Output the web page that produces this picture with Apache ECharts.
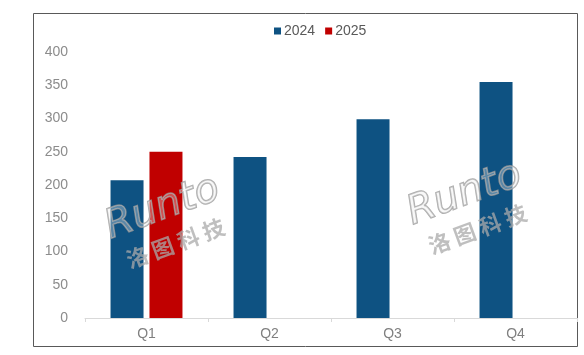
<!DOCTYPE html>
<html>
<head>
<meta charset="utf-8">
<script src="https://cdn.jsdelivr.net/npm/echarts@6/dist/echarts.min.js"></script>
<style>
  html, body { margin: 0; padding: 0; background: #ffffff; }
  #chart { width: 584px; height: 355px; }
</style>
</head>
<body>
<div id="chart"></div>
<script>
// data
var quarters = ['Q1', 'Q2', 'Q3', 'Q4'];
var values2024 = [207, 242, 299, 355];
var values2025 = [250, null, null, null];
var seriesNames = ['2024', '2025'];

var chart = echarts.init(document.getElementById('chart'));

// watermark "Runto 洛图科技" (two copies), drawn over the bars
function watermark(x, y) {
    return {
        type: 'group',
        x: x,
        y: y,
        rotation: 0.35,
        silent: true,
        z: 100,
        children: [
            {
                type: 'text',
                z: 100,
                style: {
                    text: 'Runto',
                    x: 0, y: 0,
                    font: 'italic 40px "DejaVu Sans"',
                    fill: 'rgba(235,235,235,0.35)',
                    stroke: 'rgba(150,150,150,0.8)',
                    lineWidth: 1.5
                }
            },
            {
                type: 'text',
                z: 100,
                style: {
                    text: '洛 图 科 技',
                    x: 8, y: 46,
                    font: 'bold 22px "Noto Sans CJK SC"',
                    fill: 'rgba(170,170,170,0.75)'
                }
            }
        ]
    };
}

chart.setOption({
    animation: false,
    textStyle: { fontFamily: '"Liberation Sans", Arial, sans-serif' },
    legend: {
        top: 19,
        left: 269,
        itemWidth: 7,
        itemHeight: 7,
        itemGap: 10,
        icon: 'rect',
        textStyle: { color: '#595959', fontSize: 14, padding: [0, 0, 0, -2] },
        data: seriesNames
    },
    grid: {
        left: 85,
        right: 7,
        top: 52,
        bottom: 37
    },
    xAxis: {
        type: 'category',
        data: quarters,
        axisLine: { lineStyle: { color: '#d9d9d9' } },
        axisTick: { show: true, length: 4, lineStyle: { color: '#d9d9d9' } },
        axisLabel: { color: '#7f7f7f', fontSize: 14, margin: 9 }
    },
    yAxis: {
        type: 'value',
        min: 0,
        max: 400,
        interval: 50,
        axisLine: { show: false },
        axisTick: { show: false },
        splitLine: { show: false },
        axisLabel: { color: '#8c8c8c', fontSize: 14, margin: 17 }
    },
    series: [
        {
            name: seriesNames[0],
            type: 'bar',
            barWidth: 33,
            barGap: '18%',
            itemStyle: { color: '#0e5282' },
            data: values2024
        },
        {
            name: seriesNames[1],
            type: 'bar',
            barWidth: 33,
            barGap: '18%',
            itemStyle: { color: '#c00000' },
            data: values2025
        }
    ],
    graphic: [
        {
            type: 'rect',
            shape: { x: 33.5, y: 13.5, width: 544, height: 333 },
            style: { fill: 'none', stroke: '#595959', lineWidth: 1 },
            silent: true
        },
        watermark(100, 210),
        watermark(402, 196)
    ]
});
</script>
</body>
</html>
